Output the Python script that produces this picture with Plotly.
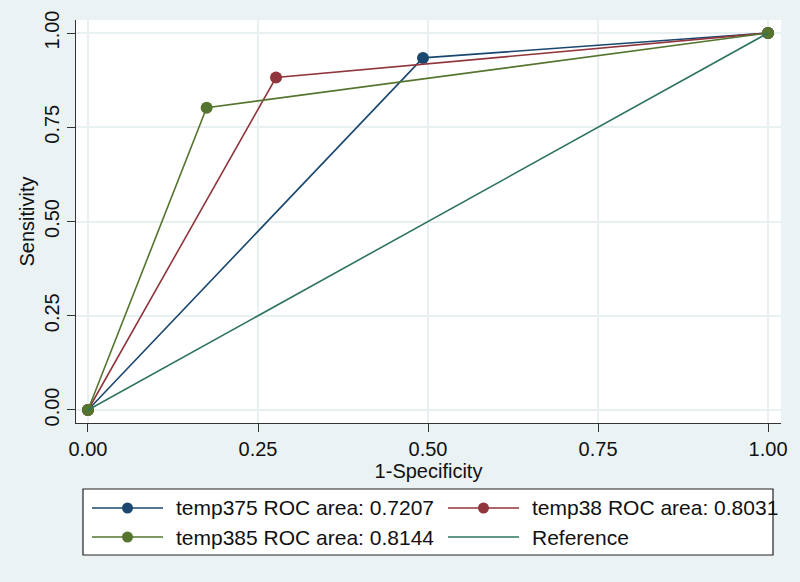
import plotly.graph_objects as go

# data
fpr_375 = [0.0, 0.4926, 1.0]
sens_375 = [0.0, 0.934, 1.0]
fpr_38 = [0.0, 0.2765, 1.0]
sens_38 = [0.0, 0.882, 1.0]
fpr_385 = [0.0, 0.1745, 1.0]
sens_385 = [0.0, 0.802, 1.0]
ref_x = [0.0, 1.0]
ref_y = [0.0, 1.0]
names = ["temp375 ROC area: 0.7207", "temp38 ROC area: 0.8031",
         "temp385 ROC area: 0.8144", "Reference"]
tick_vals = [0.0, 0.25, 0.5, 0.75, 1.0]
tick_text = ["0.00", "0.25", "0.50", "0.75", "1.00"]

NAVY = "#1a476f"
MAROON = "#90353b"
GREEN = "#55752f"
TEAL = "#2f7461"
BG = "#eaf2f3"
FONT = "Liberation Sans, Arial, sans-serif"
colors = [NAVY, MAROON, GREEN, TEAL]
has_marker = [True, True, True, False]

W, H = 800, 582
L, R, T, B = 76, 19, 20, 159
PW, PH = W - L - R, H - T - B

fig = go.Figure()
series = [(fpr_375, sens_375), (fpr_38, sens_38), (fpr_385, sens_385)]
for i, (xs, ys) in enumerate(series):
    fig.add_trace(go.Scatter(x=xs, y=ys, name=names[i], mode="lines+markers",
                             line=dict(color=colors[i], width=1.6),
                             marker=dict(size=12, color=colors[i])))
fig.add_trace(go.Scatter(x=ref_x, y=ref_y, name=names[3], mode="lines",
                         line=dict(color=TEAL, width=1.6)))

axis_common = dict(
    tickvals=tick_vals, ticktext=tick_text, showgrid=True, gridcolor="#e9f0f2", gridwidth=1.5,
    zeroline=False, showline=True, linecolor="#333333", linewidth=1.2,
    ticks="outside", ticklen=8, tickcolor="#333333", tickwidth=1.2,
    tickfont=dict(family=FONT, size=20, color="#111111"), automargin=False,
)


def px(x):
    return (x - L) / PW


def py(y):
    return (H - B - y) / PH


shapes = [dict(type="rect", xref="paper", yref="paper", x0=px(83), x1=px(773), y0=py(555), y1=py(489),
               fillcolor="white", line=dict(color="#222222", width=1.2), layer="above")]
annotations = []
# legend layout: [col1 row1, col2 row1, col1 row2, col2 row2]
slots = [(92, 508), (448, 508), (92, 537), (448, 537)]
for i, (sx, sy) in enumerate(slots):
    shapes.append(dict(type="line", xref="paper", yref="paper", x0=px(sx), x1=px(sx + 71),
                       y0=py(sy), y1=py(sy), line=dict(color=colors[i], width=1.6)))
    if has_marker[i]:
        cx = sx + 35.5
        shapes.append(dict(type="circle", xref="paper", yref="paper", x0=px(cx - 5.5), x1=px(cx + 5.5),
                           y0=py(sy + 5.5), y1=py(sy - 5.5), fillcolor=colors[i],
                           line=dict(color=colors[i], width=0)))
    annotations.append(dict(text=names[i], xref="paper", yref="paper", x=px(sx + 82), y=py(sy),
                            xanchor="left", yanchor="middle", showarrow=False,
                            font=dict(family=FONT, size=21, color="#111111")))

fig.update_layout(
    width=W, height=H,
    paper_bgcolor=BG, plot_bgcolor="white",
    margin=dict(l=L, r=R, t=T, b=B),
    font=dict(family=FONT, size=20, color="#111111"),
    xaxis=dict(range=[-0.0176, 1.019], title=dict(text="1-Specificity", font=dict(size=20), standoff=0),
               **axis_common),
    yaxis=dict(range=[-0.0345, 1.0345], title=dict(text="Sensitivity", font=dict(size=20), standoff=0),
               tickangle=-90, **axis_common),
    shapes=shapes, annotations=annotations,
    showlegend=False,
)

fig.write_html("out.html", config={"displayModeBar": False},
               post_script="document.body.style.margin='0';document.body.style.overflow='hidden';")
